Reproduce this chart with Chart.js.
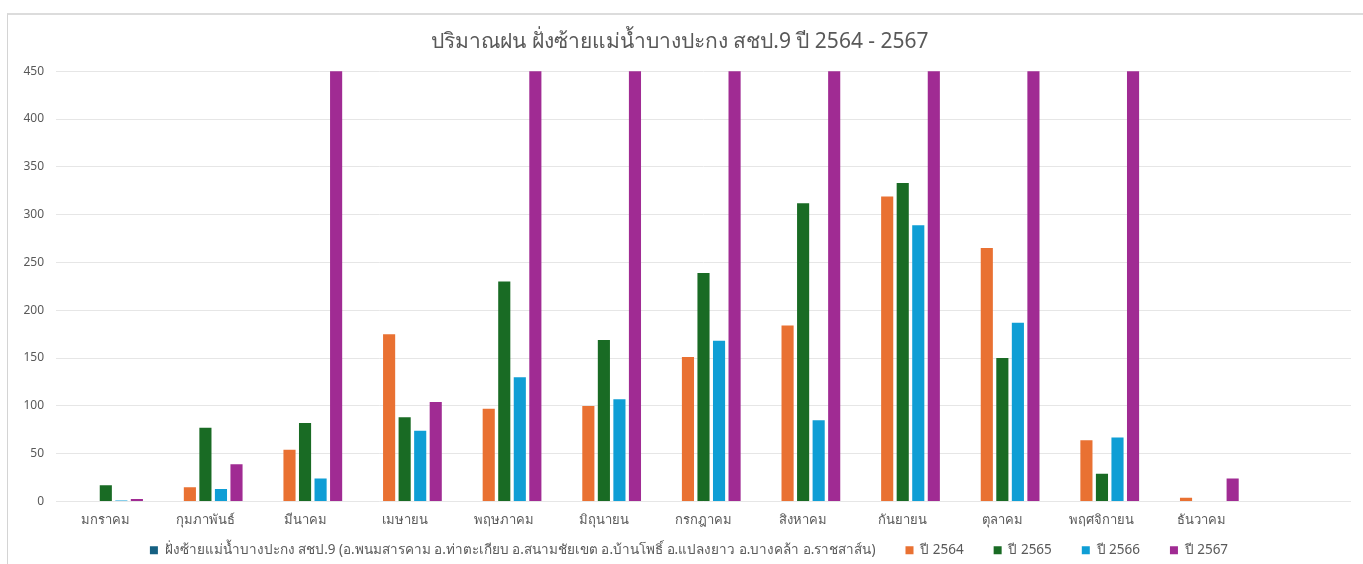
<!DOCTYPE html>
<html>
<head>
<meta charset="utf-8">
<script src="https://cdn.jsdelivr.net/npm/chart.js@4.4.1/dist/chart.umd.min.js"></script>
<style>
  html, body { margin: 0; padding: 0; background: #fff; overflow: hidden; }
  #frame { position: absolute; left: 7px; top: 13px; width: 1400px; height: 600px; border-left: 1px solid #d4d4d4; border-top: 2px solid #dcdcdc; }
  #chart { position: absolute; left: 1px; top: 0px; }
</style>
</head>
<body>
<div id="frame"><canvas id="chart" width="1355" height="552"></canvas></div>
<script>
// เดือน (ช่องสุดท้ายว่างตามกราฟต้นฉบับ)
const months = ["มกราคม", "กุมภาพันธ์", "มีนาคม", "เมษายน", "พฤษภาคม", "มิถุนายน", "กรกฎาคม", "สิงหาคม", "กันยายน", "ตุลาคม", "พฤศจิกายน", "ธันวาคม", ""];

// ปริมาณฝน (มม.)
const areaRain = [null, null, null, null, null, null, null, null, null, null, null, null];
const rain2564 = [null, 15, 54, 175, 97, 100, 151, 184, 319, 265, 64, 4];
const rain2565 = [17, 77, 82, 88, 230, 169, 239, 312, 333, 150, 29, null];
const rain2566 = [1, 13, 24, 74, 130, 107, 168, 85, 289, 187, 67, null];
const rain2567 = [2.5, 39, 470, 104, 470, 470, 470, 470, 470, 470, 470, 24];

const yTicks = [0, 50, 100, 150, 200, 250, 300, 350, 400, 450];

const grey = "#595959";
const font = "'Noto Sans', 'DejaVu Sans', sans-serif";
const legendLift = 18;
const legendNudge = 9;

const mk = (label, data, color) => ({
  label, data, backgroundColor: color, borderWidth: 0,
  categoryPercentage: 0.78, barPercentage: 0.78
});

// legend: keep the wide gaps between items but pull it closer to the axis
const legendTight = {
  id: "legendTight",
  afterInit(chart) {
    const lg = chart.legend;
    const fit = lg.fit.bind(lg);
    const draw = lg.draw.bind(lg);
    lg.fit = function () { fit(); this.height -= legendLift; };
    lg.draw = function () {
      const { top, height, left, right } = this;
      this.top = top - legendLift;
      this.height = height + legendLift;
      this.left = left + legendNudge;
      this.right = right + legendNudge;
      draw();
      Object.assign(this, { top, height, left, right });
    };
  }
};

new Chart(document.getElementById("chart"), {
  type: "bar",
  data: {
    labels: months,
    datasets: [
      mk("ฝั่งซ้ายแม่น้ำบางปะกง สชป.9 (อ.พนมสารคาม อ.ท่าตะเกียบ อ.สนามชัยเขต อ.บ้านโพธิ์ อ.แปลงยาว อ.บางคล้า อ.ราชสาส์น)", areaRain, "#156082"),
      mk("ปี 2564", rain2564, "#E97132"),
      mk("ปี 2565", rain2565, "#196B24"),
      mk("ปี 2566", rain2566, "#0F9ED5"),
      mk("ปี 2567", rain2567, "#A02B93")
    ]
  },
  plugins: [legendTight],
  options: {
    responsive: false,
    animation: false,
    devicePixelRatio: 1,
    layout: { padding: { left: 0, right: 13, top: 0, bottom: 0 } },
    plugins: {
      title: {
        display: true,
        text: "ปริมาณฝน ฝั่งซ้ายแม่น้ำบางปะกง สชป.9 ปี 2564 - 2567",
        color: grey,
        font: { family: font, size: 21, weight: "normal" },
        padding: { top: 14, bottom: 17 }
      },
      legend: {
        position: "bottom",
        labels: {
          color: grey, boxWidth: 8, boxHeight: 8, padding: 30,
          font: { family: font, size: 13.5 }
        }
      },
      tooltip: { enabled: false }
    },
    scales: {
      x: {
        afterFit: s => { s.height = 30; },
        grid: { display: false, drawTicks: false },
        border: { display: false },
        ticks: { color: grey, font: { family: font, size: 13 }, padding: 11, maxRotation: 0, autoSkip: false }
      },
      y: {
        min: 0, max: 450,
        afterFit: s => { s.width = 47; },
        afterBuildTicks: s => { s.ticks = yTicks.map(v => ({ value: v })); },
        grid: { color: "#e6e6e6", drawTicks: false },
        border: { display: false },
        ticks: { color: grey, font: { family: font, size: 12 }, padding: 12 }
      }
    }
  }
});
</script>
</body>
</html>
